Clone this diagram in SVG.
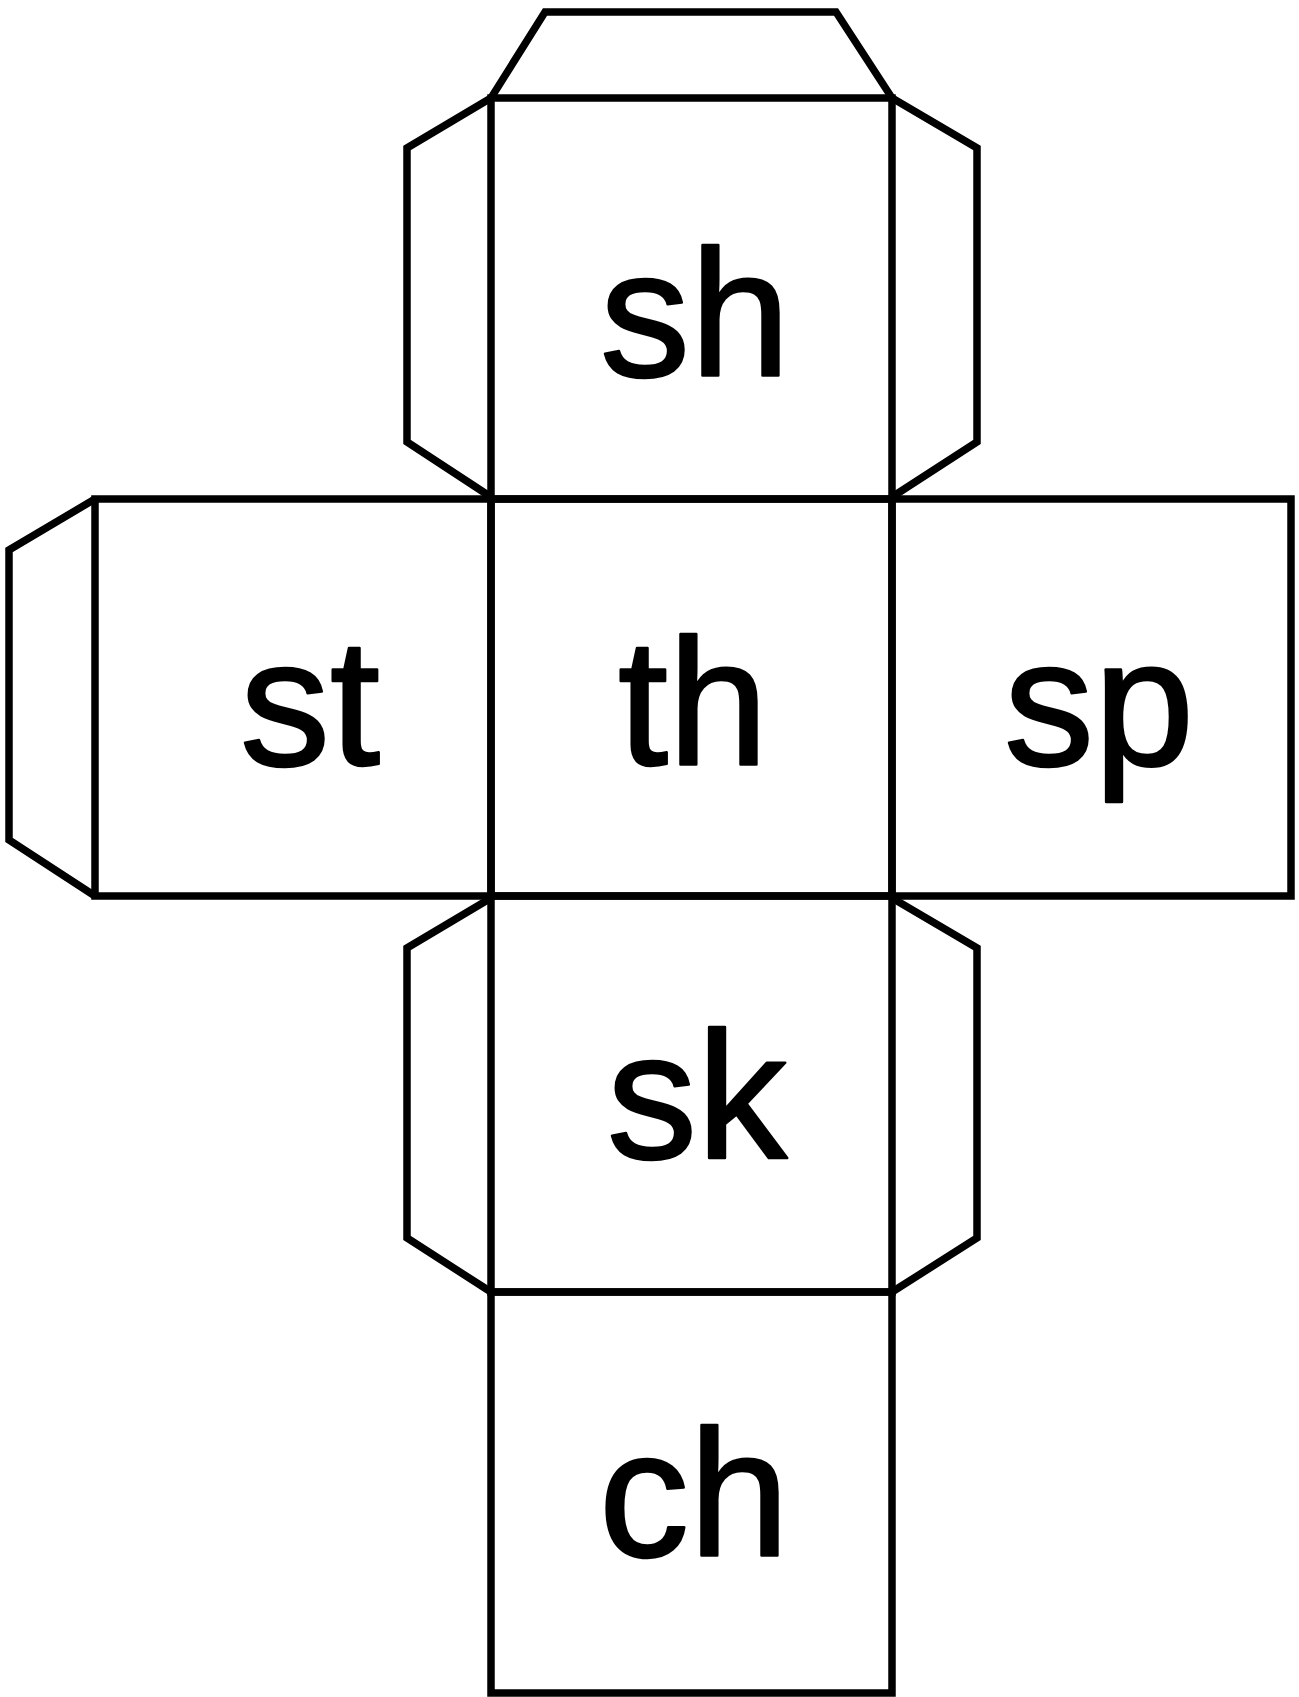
<svg xmlns="http://www.w3.org/2000/svg" width="1299" height="1697" viewBox="0 0 1299 1697">
<style>
.ln{fill:none;stroke:#000;stroke-width:7.5;stroke-linejoin:miter}
.lbl{font-family:"Liberation Sans",Arial,sans-serif;font-size:180px;fill:#000;stroke:#000;stroke-width:2.5;stroke-linejoin:round;text-anchor:middle}
</style>
<rect width="1299" height="1697" fill="#fff"/>
<g id="flaps">
<polyline class="ln" points="491,98 545,12 836,12 892,98"/>
<polyline class="ln" points="491,98 407,148 407,442 491,497"/>
<polyline class="ln" points="892,98 977,148 977,442 892,497"/>
<polyline class="ln" points="95,499 9,550 9,840 95,896"/>
<polyline class="ln" points="491,898 407,948 407,1238 491,1292"/>
<polyline class="ln" points="892,898 977,948 977,1238 892,1292"/>
</g>
<g id="face-sh"><rect class="ln" x="491" y="98" width="401" height="401"/><text class="lbl" x="695" y="376">sh</text></g>
<g id="face-st"><rect class="ln" x="95" y="499" width="396" height="397"/><text class="lbl" x="310" y="765">st</text></g>
<g id="face-th"><rect class="ln" x="491" y="499" width="401" height="397"/><text class="lbl" x="693" y="765">th</text></g>
<g id="face-sp"><rect class="ln" x="892" y="499" width="399" height="397"/><text class="lbl" x="1099" y="765">sp</text></g>
<g id="face-sk"><rect class="ln" x="491" y="896" width="401" height="396"/><text class="lbl" x="697" y="1158">sk</text></g>
<g id="face-ch"><rect class="ln" x="491" y="1292" width="401" height="401"/><text class="lbl" x="694" y="1556">ch</text></g>
<g id="connectors"></g>
</svg>
